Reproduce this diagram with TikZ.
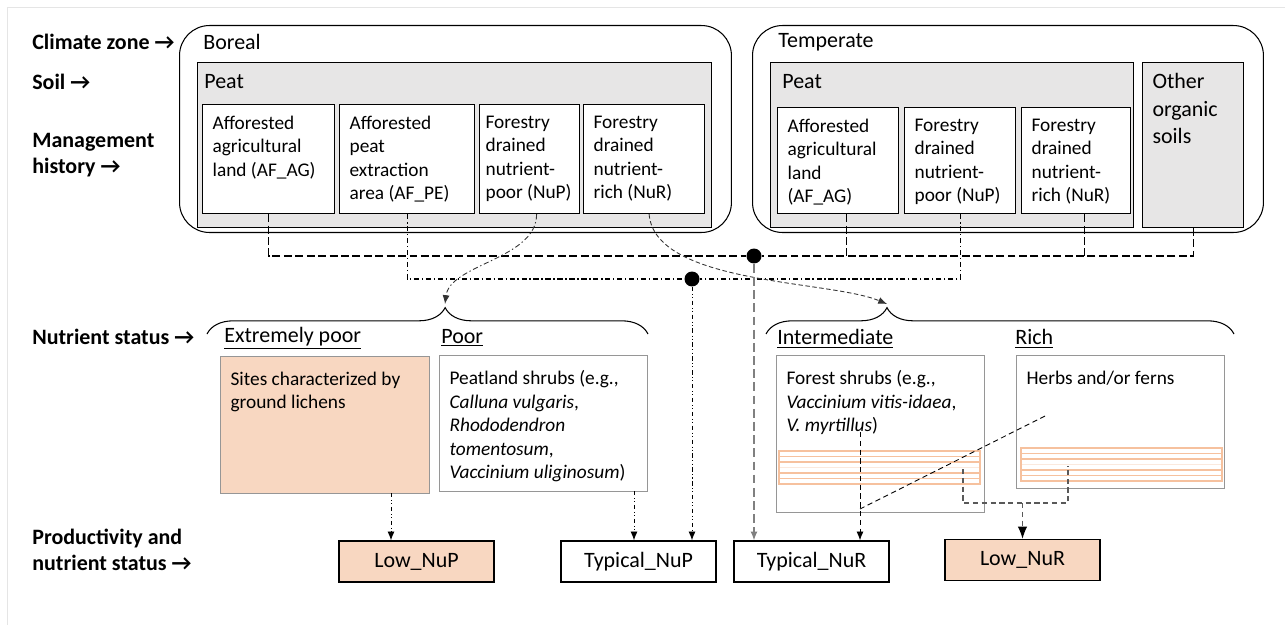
\documentclass[tikz,border=0pt]{standalone}
\usepackage{fontspec}
\setmainfont{Carlito}
\usetikzlibrary{positioning,calc,arrows.meta,decorations.pathreplacing}

\definecolor{peach}{RGB}{248,215,193}
\definecolor{soilgray}{RGB}{231,230,230}
\definecolor{stripe}{RGB}{246,193,158}
\definecolor{vegline}{RGB}{150,150,150}

\tikzset{
  lbl/.style={anchor=west, inner sep=0pt, align=left, font=\fontsize{12.5}{14.8}\selectfont\bfseries},
  headtxt/.style={anchor=west, inner sep=0pt, font=\fontsize{12.5}{15}\selectfont},
  zone/.style={draw, rounded corners=0.6cm, anchor=north west, line width=0.6pt},
  soil/.style={draw, fill=soilgray, anchor=north west, line width=0.6pt},
  hist/.style={draw, fill=white, anchor=north west, inner xsep=0.2cm, inner ysep=0.22cm, line width=0.7pt, font=\fontsize{11}{13.4}\selectfont},
  veg/.style={draw=vegline, fill=white, anchor=north west, inner xsep=0.2cm, inner ysep=0.3cm, line width=0.7pt, font=\fontsize{11}{13.4}\selectfont},
  outc/.style={draw, fill=white, minimum width=3.1cm, minimum height=0.82cm, line width=0.8pt, font=\fontsize{12.5}{15}\selectfont},
  jdot/.style={circle, fill, inner sep=0pt, minimum size=0.3cm},
  brc/.style={decorate, line width=0.6pt},
  agline/.style={line width=0.6pt, dash pattern=on 4.5pt off 2pt},
  peline/.style={line width=0.6pt, dash pattern=on 3pt off 1.5pt on 0.8pt off 1.5pt},
  longline/.style={line width=0.7pt, gray, dash pattern=on 5pt off 2.5pt},
  dotline/.style={line width=0.5pt, dash pattern=on 2.5pt off 1.5pt on 0.6pt off 1.2pt on 0.6pt off 1.5pt},
  cline/.style={line width=0.5pt, black!80},
  vline/.style={line width=0.5pt, dash pattern=on 3pt off 2pt},
  gline/.style={line width=0.7pt, black!65, dash pattern=on 3pt off 2pt},
  stripeln/.style={stripe, line width=0.9pt}
}

\begin{document}
\begin{tikzpicture}[x=0.02cm, y=-0.02cm, >={Latex[length=5pt,width=4pt]}]
\useasboundingbox (0,0) rectangle (1285,625);
\draw[black!10] (7,625) -- (7,7) -- (1285,7);

% row labels
\node[lbl] (lzone) at (32,42) {Climate zone →};
\node[lbl] (lsoil) at (32,82) {Soil →};
\node[lbl] (lhist) at (32,155) {Management\\history →};
\node[lbl] (lnut) at (32,337) {Nutrient status →};
\node[lbl] (lprod) at (32,550) {Productivity and\\nutrient status →};

% climate zones and soils
\node[zone, minimum width=11.04cm, minimum height=4.14cm] (boreal) at (179,25) {};
\node[zone, minimum width=10.22cm, minimum height=4.14cm] (temp) at (752,25) {};
\node[headtxt] (tboreal) at (203,42) {Boreal};
\node[headtxt] (ttemp) at (778,42) {Temperate};
\node[soil, minimum width=10.28cm, minimum height=3.3cm] (bpeat) at (197,62) {};
\node[soil, minimum width=7.26cm, minimum height=3.3cm] (tpeat) at (770,62) {};
\node[soil, inner xsep=0.2cm, inner ysep=0.22cm, font=\fontsize{12.5}{15.6}\selectfont] (oth) at (1142,62)
  {\parbox[t][2.86cm][t]{1.62cm}{\raggedright Other\\organic\\soils}};
\node[headtxt] (pbor) at (204,82) {Peat};
\node[headtxt] (ptem) at (782,82) {Peat};

% management history
\node[hist] (bAG) at (202,104) {\parbox[t][1.74cm][t]{2.24cm}{\raggedright Afforested\\agricultural\\land (AF\_AG)}};
\node[hist] (bPE) at (339,104) {\parbox[t][1.74cm][t]{2.30cm}{\raggedright Afforested\\peat\\extraction\\area (AF\_PE)}};
\node[hist, inner xsep=0.12cm] (bNuP) at (479,104) {\parbox[t][1.74cm][t]{1.76cm}{\raggedright Forestry\\drained\\nutrient-\\poor~(NuP)}};
\node[hist] (bNuR) at (583,104) {\parbox[t][1.74cm][t]{2.02cm}{\raggedright Forestry\\drained\\nutrient-\\rich~(NuR)}};
\node[hist] (tAG) at (777,107) {\parbox[t][1.68cm][t]{2.02cm}{\raggedright Afforested\\agricultural\\land\\(AF\_AG)}};
\node[hist] (tNuP) at (904,107) {\parbox[t][1.68cm][t]{1.82cm}{\raggedright Forestry\\drained\\nutrient-\\poor~(NuP)}};
\node[hist] (tNuR) at (1021,107) {\parbox[t][1.68cm][t]{1.78cm}{\raggedright Forestry\\drained\\nutrient-\\rich~(NuR)}};

% junctions
\node[jdot] (j1) at (754,256) {};
\node[jdot] (j2) at (692,279) {};
\coordinate (aTAG) at ($(tAG.south)+(8,0)$);
\coordinate (aTNR) at ($(tNuR.south)+(8,0)$);
\draw[agline] (bAG.south) |- (j1);
\draw[agline] (oth.south) |- (j1);
\draw[agline] (aTAG) -- (aTAG |- j1);
\draw[agline] (aTNR) -- (aTNR |- j1);
\draw[peline] (bPE.south) |- (j2);
\draw[peline] (tNuP.south) |- (j2);

% nutrient status
\coordinate (tipP) at (445,304);
\coordinate (tipR) at (887,304);
\draw[brc, decoration={brace, amplitude=15pt, aspect=0.54}] (207,334) -- (648,334);
\draw[brc, decoration={brace, amplitude=15pt, aspect=0.2585}] (766,334) -- (1234,334);
\draw[cline, peline, line width=0.5pt, ->] ($(bNuP.south)+(7,0)$) .. controls +(0,45) and +(5,-40) .. (tipP);
\draw[cline, dash pattern=on 2.5pt off 1.5pt, ->] ($(bNuR.south)+(5,0)$) .. controls (655,285) and (830,280) .. (tipR);

\node[headtxt] (hEP) at (224,338) {\underline{Extremely poor}};
\node[headtxt] (hP) at (441,338) {\underline{Poor}};
\node[headtxt] (hI) at (777,339) {\underline{Intermediate}};
\node[headtxt] (hR) at (1015,339) {\underline{Rich}};

\node[veg, fill=peach] (ePoor) at (220,356) {\parbox[t][2.14cm][t]{3.78cm}{\raggedright Sites characterized by\\ground lichens}};
\node[veg] (poor) at (439,355) {\parbox[t][2.12cm][t]{3.76cm}{\raggedright Peatland shrubs (e.g.,\\\textit{Calluna vulgaris},\\\textit{Rhododendron}\\\textit{tomentosum},\\\textit{Vaccinium uliginosum})}};
\node[veg] (inter) at (776,355) {\parbox[t][2.54cm][t]{3.76cm}{\raggedright Forest shrubs (e.g.,\\\textit{Vaccinium vitis-idaea},\\\textit{V. myrtillus})}};
\node[veg] (rich) at (1016,355) {\parbox[t][2.06cm][t]{3.76cm}{\raggedright Herbs and/or ferns}};

% stripes
\foreach \sx/\sy in {779/451, 1021/448} {
  \draw[stripeln] (\sx,\sy) rectangle ++(201,33);
  \foreach \k in {1,2,4,5}
    \draw[stripeln] (\sx,\sy+\k*5.5) -- ++(201,0);
  \draw[stripeln, opacity=0.35] (\sx,\sy+16.5) -- ++(201,0);
}

% productivity and nutrient status
\node[outc, fill=peach] (lowP) at (416.5,561.5) {Low\_NuP};
\node[outc] (typP) at (638.5,561.5) {Typical\_NuP};
\node[outc] (typR) at (811.5,561.5) {Typical\_NuR};
\node[outc, fill=peach] (lowR) at (1022.5,560) {Low\_NuR};

\coordinate (sEP) at (391,493);
\coordinate (sPoor) at (634,491);
\draw[dotline, ->] (sEP) -- (sEP |- lowP.north);
\draw[dotline, ->] (sPoor) -- (sPoor |- typP.north);
\draw[dotline, ->] (j2) -- (j2 |- typP.north);
\draw[longline, ->] (j1) -- (j1 |- typR.north);

\coordinate (m1) at (860,432);
\coordinate (m2) at (1045,416);
\coordinate (m3) at (860,509);
\draw[vline, ->] (m1) -- (m1 |- typR.north);
\draw[vline] (m2) -- (m3);

\coordinate (sI) at (963,469);
\coordinate (sR) at (1068,466);
\coordinate (jR) at (1022.5,503);
\draw[gline] (sI) |- (jR) -| (sR);
\draw[gline, -{Latex[length=7pt,width=5.5pt,color=black]}] (jR) -- (lowR.north);
\end{tikzpicture}
\end{document}
